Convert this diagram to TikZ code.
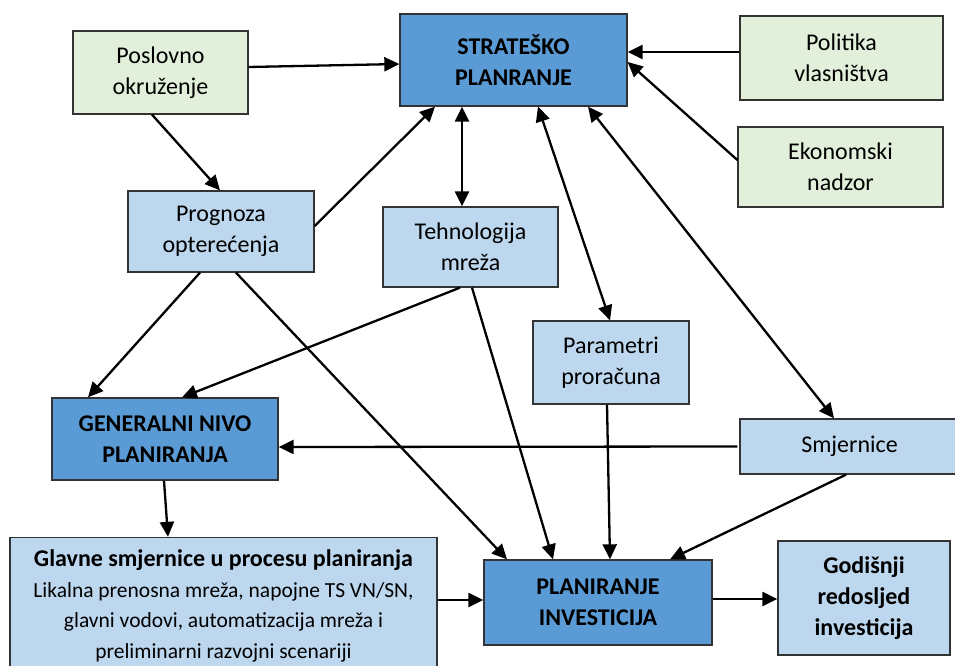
\documentclass[tikz,border=0pt]{standalone}
\usepackage{fontspec}
\setmainfont{Carlito}
\usetikzlibrary{arrows.meta, calc}

\definecolor{stratblue}{HTML}{5B9BD5}
\definecolor{paleblue}{HTML}{BDD7EE}
\definecolor{palegreen}{HTML}{E2EFDA}

\begin{document}
\begin{tikzpicture}[
  x=1pt, y=-1pt,
  align=center,
  font=\fontsize{24}{31}\selectfont,
  % Estilos de cajas
  envbox/.style={draw=black!80, rectangle, line width=1.3pt, fill=palegreen, inner sep=0pt},
  inbox/.style={draw=black!80, rectangle, line width=1.3pt, fill=paleblue, inner sep=0pt},
  mainbox/.style={draw=black!80, rectangle, line width=1.3pt, fill=stratblue, inner sep=0pt, font=\fontsize{24}{31}\selectfont\bfseries},
  % Estilos de flechas
  line/.style={draw, -{Triangle[length=15pt, width=14pt]}, line width=2.3pt},
  both/.style={draw, {Triangle[length=15pt, width=14pt]}-{Triangle[length=15pt, width=14pt]}, line width=2.3pt}
]
  \useasboundingbox[fill=white] (0,0) rectangle (955,666);

  % ==========================================
  % UPPER ROW: ENVIRONMENT AND STRATEGY
  % ==========================================
  \node[envbox, minimum width=175pt, minimum height=83pt] (posl) at (160.5,72.5) {Poslovno\\okruženje};
  \node[mainbox, minimum width=227pt, minimum height=92pt] (strat) at (513.5,60) {STRATEŠKO\\PLANRANJE};
  \node[envbox, minimum width=203pt, minimum height=84pt] (polit) at (841.5,58) {Politika\\vlasništva};
  \node[envbox, minimum width=205pt, minimum height=80pt] (ekon) at (840.5,167) {Ekonomski\\nadzor};

  % ==========================================
  % MIDDLE: INPUTS
  % ==========================================
  \node[inbox, minimum width=186pt, minimum height=81pt] (progn) at (221,231.5) {Prognoza\\opterećenja};
  \node[inbox, minimum width=175pt, minimum height=80pt] (tehno) at (470.5,247) {Tehnologija\\mreža};
  \node[inbox, minimum width=156pt, minimum height=83pt] (param) at (611,362.5) {Parametri\\proračuna};
  \node[mainbox, minimum width=226pt, minimum height=82pt] (gen) at (165,439) {GENERALNI NIVO\\PLANIRANJA};
  \node[inbox, minimum width=219pt, minimum height=55pt] (smj) at (849.5,446.5) {Smjernice};

  % ==========================================
  % BOTTOM ROW: RESULTS
  % ==========================================
  \node[inbox, minimum width=427pt, minimum height=137pt, font=\fontsize{21.5}{30.5}\selectfont] (glav) at (223.5,606) {
    \textbf{\fontsize{24}{30.5}\selectfont Glavne smjernice u procesu planiranja}\\
    Likalna prenosna mreža, napojne TS VN/SN,\\
    glavni vodovi, automatizacija mreža i\\
    preliminarni razvojni scenariji
  };
  \node[mainbox, minimum width=228pt, minimum height=85pt] (plan) at (598,602.5) {PLANIRANJE\\INVESTICIJA};
  \node[inbox, minimum width=172pt, minimum height=114pt, font=\fontsize{24}{31}\selectfont\bfseries] (god) at (864,598) {Godišnji\\redosljed\\investicija};

  % ==========================================
  % CONNECTORS
  % ==========================================
  \draw[line] ([yshift=5.5]posl.east) -- ([yshift=-4]strat.west);
  \draw[line] ([xshift=-8.5]posl.south) -- ([xshift=-1]progn.north);
  \draw[line] ([yshift=5.5]progn.east) -- ([xshift=-78.5]strat.south);
  \draw[both] ([xshift=-51.5]strat.south) -- ([xshift=-8.5]tehno.north);
  \draw[both] ([xshift=24.5]strat.south) -- ([xshift=-1]param.north);
  \draw[both] ([xshift=74.5]strat.south) -- ([xshift=-15.5]smj.north);
  \draw[line] ([yshift=6]polit.west) -- ([yshift=8]strat.east);
  \draw[line] ([yshift=7]ekon.west) -- ([yshift=-2]strat.east);

  \draw[line] ([xshift=-21]progn.south) -- ([xshift=-77]gen.north);
  \draw[line] ([xshift=-10.5]tehno.south) -- ([xshift=17]gen.north);
  \draw[line] ([xshift=15]progn.south) -- ([xshift=-91]plan.north);
  \draw[line] ([xshift=1.5]tehno.south) -- ([xshift=-45]plan.north);
  \draw[line] ([xshift=-4]param.south) -- ([xshift=12]plan.north);
  \draw[line] ([xshift=-3.5]smj.south) -- ([xshift=72]plan.north);
  \draw[line] ([xshift=-2,yshift=0]smj.west) -- ([yshift=-8]gen.east);

  \draw[line] ([xshift=-1]gen.south) -- ([xshift=-55.5]glav.north);
  \draw[line] ([yshift=6]glav.east) -- ([yshift=2.5]plan.west);
  \draw[line] ([yshift=3.5]plan.east) -- ([yshift=-1]god.west);

\end{tikzpicture}
\end{document}
